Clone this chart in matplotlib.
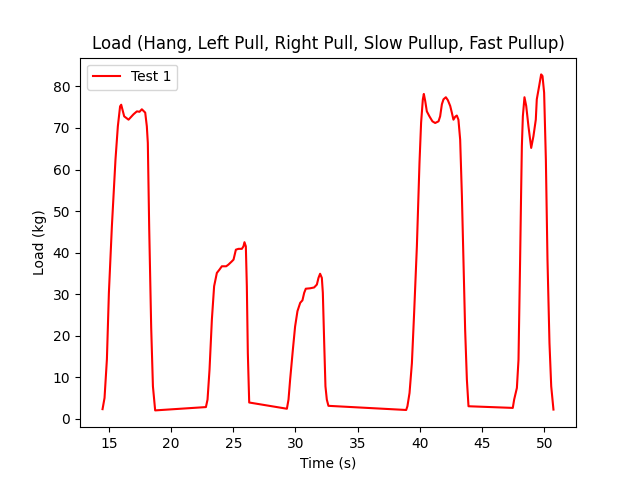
import matplotlib
matplotlib.use("Agg")
import matplotlib.pyplot as plt

# Hang
hang_t = [14.49, 14.65, 14.84, 15.00, 15.24, 15.53, 15.72, 15.90, 15.99, 16.23, 16.58, 16.98, 17.25, 17.46, 17.65, 17.92, 18.05, 18.13, 18.24, 18.40, 18.54, 18.72]
hang_v = [2.3, 5.0, 14.3, 30.3, 46.3, 62.4, 70.4, 75.2, 75.6, 72.8, 72.0, 73.3, 74.0, 73.9, 74.5, 73.7, 70.4, 66.4, 46.0, 22.0, 7.8, 2.0]
# Left pull
left_t = [22.80, 22.93, 23.09, 23.28, 23.46, 23.68, 23.89, 24.08, 24.43, 24.61, 24.89, 25.02, 25.21, 25.42, 25.69, 25.82, 25.90, 26.01, 26.09, 26.17, 26.28]
left_v = [2.8, 4.6, 11.8, 23.9, 31.9, 35.1, 35.9, 36.7, 36.7, 37.1, 37.9, 38.3, 40.7, 40.9, 40.9, 41.5, 42.5, 41.5, 31.9, 15.8, 3.9]
# Right pull
right_t = [29.31, 29.44, 29.57, 29.79, 29.97, 30.16, 30.38, 30.56, 30.70, 30.83, 31.18, 31.50, 31.72, 31.85, 31.98, 32.12, 32.20, 32.31, 32.41, 32.52, 32.65]
right_v = [2.4, 4.6, 9.4, 16.6, 22.2, 25.9, 27.9, 28.5, 30.3, 31.3, 31.4, 31.6, 32.3, 33.9, 34.9, 33.9, 30.3, 18.2, 7.8, 4.6, 3.1]
# Slow pullup
slow_t = [38.90, 39.00, 39.17, 39.36, 39.54, 39.76, 39.97, 40.10, 40.24, 40.32, 40.43, 40.56, 40.77, 41.01, 41.23, 41.50, 41.63, 41.77, 41.90, 42.09, 42.25, 42.44, 42.57, 42.70, 42.84, 42.97, 43.10, 43.24, 43.38, 43.51, 43.64, 43.78, 43.91]
slow_v = [2.1, 3.0, 6.2, 13.4, 25.5, 41.5, 61.6, 71.3, 76.9, 78.2, 76.5, 74.0, 72.8, 71.6, 71.2, 71.6, 72.8, 75.7, 76.9, 77.4, 76.7, 75.3, 73.7, 72.0, 72.7, 73.0, 72.0, 67.2, 53.6, 37.5, 21.4, 9.4, 3.0]
# Fast pullup
fast_t = [47.47, 47.58, 47.80, 47.93, 48.06, 48.14, 48.20, 48.28, 48.41, 48.55, 48.73, 48.95, 49.13, 49.32, 49.40, 49.59, 49.75, 49.86, 49.99, 50.13, 50.26, 50.42, 50.56, 50.74]
fast_v = [2.6, 4.6, 7.4, 14.2, 38.3, 54.4, 65.6, 72.8, 77.4, 75.3, 70.4, 65.2, 68.0, 72.0, 76.9, 80.1, 82.9, 82.5, 78.5, 62.4, 38.3, 18.2, 7.8, 2.2]

time = hang_t + left_t + right_t + slow_t + fast_t
load = hang_v + left_v + right_v + slow_v + fast_v

fig, ax = plt.subplots(figsize=(6.4, 4.8), dpi=100)
ax.plot(time, load, color="red", label="Test 1")
ax.set_title("Load (Hang, Left Pull, Right Pull, Slow Pullup, Fast Pullup)")
ax.set_xlabel("Time (s)")
ax.set_ylabel("Load (kg)")
ax.legend(loc="upper left")
fig.savefig("out.png")
